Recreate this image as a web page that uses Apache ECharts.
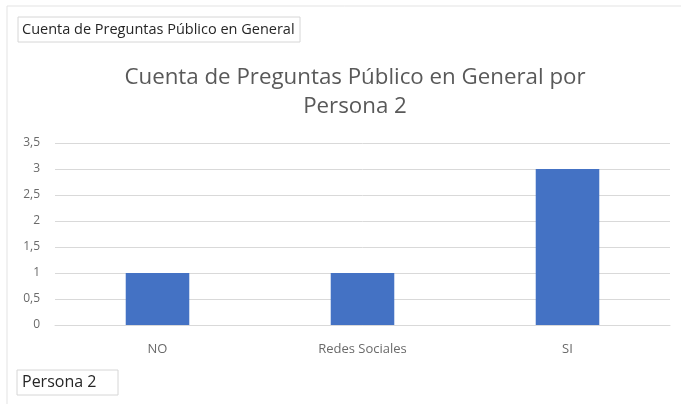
<!DOCTYPE html>
<html>
<head>
<meta charset="utf-8">
<script src="https://cdn.jsdelivr.net/npm/echarts@6/dist/echarts.min.js"></script>
<style>
  html, body { margin: 0; padding: 0; background: #ffffff; }
  #chart { width: 681px; height: 404px; }
</style>
</head>
<body>
<div id="chart"></div>
<script>
// Pivot chart: count of questions per answer category
const categories = ['NO', 'Redes Sociales', 'SI'];
const counts = [1, 1, 3];
const yTicks = [0, 0.5, 1, 1.5, 2, 2.5, 3, 3.5];

const chartTitle = 'Cuenta de Preguntas Público en General por\nPersona 2';
const valueFieldLabel = 'Cuenta de Preguntas Público en General';
const axisFieldLabel = 'Persona 2';

const FONT = '"Open Sans", "Liberation Sans", sans-serif';

const chart = echarts.init(document.getElementById('chart'), null, { renderer: 'canvas' });

chart.setOption({
  animation: false,
  backgroundColor: '#ffffff',
  title: {
    text: chartTitle,
    left: 350,
    textAlign: 'center',
    top: 58,
    textStyle: {
      fontFamily: FONT,
      fontSize: 22.3,
      fontWeight: 'normal',
      color: '#595959',
      lineHeight: 29
    }
  },
  grid: { left: 55, right: 11, top: 143, bottom: 79, containLabel: false },
  xAxis: {
    type: 'category',
    data: categories,
    axisLine: { show: true, lineStyle: { color: '#d9d9d9' } },
    axisTick: { show: false },
    axisLabel: {
      fontFamily: FONT,
      fontSize: 13,
      color: '#6a6a6a',
      margin: 18
    }
  },
  yAxis: {
    type: 'value',
    min: 0,
    max: yTicks[yTicks.length - 1],
    interval: 0.5,
    axisLine: { show: false },
    axisTick: { show: false },
    splitLine: { lineStyle: { color: '#d9d9d9', width: 1 } },
    axisLabel: {
      fontFamily: FONT,
      fontSize: 12,
      color: '#6a6a6a',
      margin: 15,
      formatter: v => String(v).replace('.', ',')
    }
  },
  series: [{
    type: 'bar',
    data: counts,
    barWidth: '31%',
    itemStyle: { color: '#4472c4' }
  }],
  graphic: [
    // chart area border
    {
      type: 'rect',
      shape: { x: 7, y: 6, width: 690, height: 420 },
      style: { fill: 'none', stroke: '#e3e3e3', lineWidth: 1 },
      silent: true
    },
    // value field button
    {
      type: 'rect',
      shape: { x: 18, y: 17, width: 282, height: 25 },
      style: { fill: '#ffffff', stroke: '#d6d6d6', lineWidth: 1 }
    },
    {
      type: 'text',
      x: 22, y: 29.5,
      style: {
        text: valueFieldLabel,
        fontFamily: FONT,
        fontSize: 14.5,
        fill: '#262626',
        verticalAlign: 'middle'
      }
    },
    // axis field button
    {
      type: 'rect',
      shape: { x: 17, y: 370, width: 101, height: 25 },
      style: { fill: '#ffffff', stroke: '#d6d6d6', lineWidth: 1 }
    },
    {
      type: 'text',
      x: 22, y: 382.5,
      style: {
        text: axisFieldLabel,
        fontFamily: FONT,
        fontSize: 16,
        fill: '#262626',
        verticalAlign: 'middle'
      }
    }
  ]
});
</script>
</body>
</html>
